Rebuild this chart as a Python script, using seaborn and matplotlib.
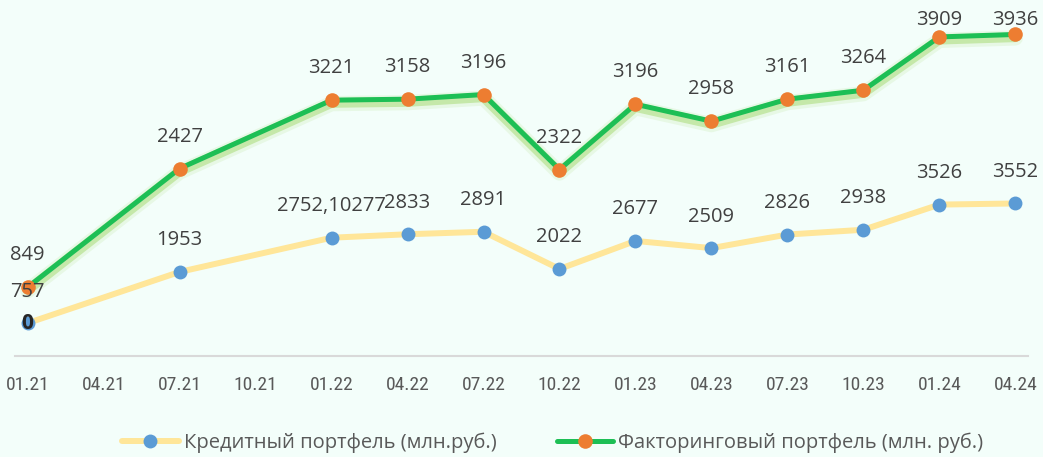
import pandas as pd
import matplotlib
matplotlib.use('Agg')
import matplotlib.pyplot as plt
import matplotlib.patheffects as pe
from matplotlib.lines import Line2D
from matplotlib import font_manager
import seaborn as sns

# даты точек (мм.гг)
dates = ['01.21', '07.21', '01.22', '04.22', '07.22', '10.22',
         '01.23', '04.23', '07.23', '10.23', '01.24', '04.24']
# подписи оси x
tick_labels = ['01.21', '04.21', '07.21', '10.21', '01.22', '04.22', '07.22',
               '10.22', '01.23', '04.23', '07.23', '10.23', '01.24', '04.24']

credit = [757, 1953, 2752.10277, 2833, 2891, 2022, 2677, 2509, 2826, 2938, 3526, 3552]
credit_labels = ['757', '1953', '2752,10277', '2833', '2891', '2022',
                 '2677', '2509', '2826', '2938', '3526', '3552']

# значения по положению точек на графике
factoring = [838, 2294, 3133, 3145, 3202, 2282, 3083, 2875, 3145, 3255, 3909, 3939]
factoring_labels = ['849', '2427', '3221', '3158', '3196', '2322',
                    '3196', '2958', '3161', '3264', '3909', '3936']

name_credit = 'Кредитный портфель (млн.руб.)'
name_factoring = 'Факторинговый портфель (млн. руб.)'


def month_index(s):
    mm, yy = s.split('.')
    return (int(yy) - 21) * 12 + int(mm) - 1


df = pd.DataFrame({'x': [month_index(d) for d in dates],
                   'credit': credit, 'factoring': factoring})

bg = '#F3FEFA'
c_yellow = '#FFE699'
c_blue = '#5B9BD5'
c_green = '#1DBF55'
c_orange = '#ED7D31'
c_text = '#404040'

sns.set_style('white')
plt.rcParams['font.family'] = ['Open Sans', 'DejaVu Sans']

installed = {f.name for f in font_manager.fontManager.ttflist}
tick_font = 'Roboto'
for name in ['Roboto Condensed', 'Liberation Sans Narrow', 'DejaVu Sans Condensed']:
    if name in installed:
        tick_font = name
        break

fig = plt.figure(figsize=(10.43, 4.57), dpi=100, facecolor=bg)
ax = fig.add_axes([15 / 1043, 101.5 / 457, 1013 / 1043, 335.5 / 457])
ax.set_facecolor('none')
ax2 = ax.twinx()
ax2.set_facecolor('none')

sns.lineplot(x='x', y='credit', data=df, ax=ax, color=c_yellow, linewidth=4.3,
             marker='o', markersize=10, markerfacecolor=c_blue,
             markeredgewidth=0, legend=False, zorder=3)

# мягкое свечение под зелёной линией
sns.lineplot(x='x', y='factoring', data=df, ax=ax2, color='#92D050', linewidth=7,
             alpha=0.35, legend=False, zorder=2)
ax2.get_lines()[0].set_path_effects([
    pe.Stroke(linewidth=11, foreground='#92D050', alpha=0.12, offset=(0, -2.5)),
    pe.Stroke(linewidth=7, foreground='#92D050', alpha=0.4, offset=(0, -2))])
sns.lineplot(x='x', y='factoring', data=df, ax=ax2, color=c_green, linewidth=3.6,
             marker='o', markersize=10.5, markerfacecolor=c_orange,
             markeredgewidth=0, legend=False, zorder=3)

ymax1 = 335.5 / 0.0428
ymax2 = 335.5 / 0.0815
ax.set_ylim(0, ymax1)
ax2.set_ylim(0, ymax2)
ax.set_xlim(-0.5, 39.5)

# подписи данных (поверх обеих линий)
off1 = 31.5 / 0.0428
off2 = 32 / 0.0815
for x, v, t in zip(df['x'], credit, credit_labels):
    ax2.text(x, v + off1, t, ha='center', va='center', fontsize=14.5,
             color=c_text, zorder=5, transform=ax.transData)
for x, v, t in zip(df['x'], factoring, factoring_labels):
    ax2.text(x, min(v + off2, ymax2), t, ha='center', va='center',
             fontsize=14.5, color=c_text, zorder=5)
ax2.text(df['x'][0], credit[0], '0', ha='center', va='center', fontsize=15,
         fontweight='bold', color='#262626', zorder=6, transform=ax.transData)

for a in (ax, ax2):
    for s in ('left', 'right', 'top'):
        a.spines[s].set_visible(False)
    a.set_ylabel('')
    a.set_xlabel('')
    a.set_yticks([])
ax2.spines['bottom'].set_visible(False)
ax.spines['bottom'].set_color('#D9D9D9')
ax.spines['bottom'].set_linewidth(1.5)

ax.set_xticks([month_index(t) for t in tick_labels])
ax.set_xticklabels(tick_labels, family=[tick_font, 'DejaVu Sans'],
                   fontsize=12 if tick_font == 'Roboto' else 14, color='#595959')
ax.set_xticks([month_index(t) - 0.5 for t in tick_labels], minor=True)
ax.tick_params(axis='x', which='major', length=0, pad=15)
ax.tick_params(axis='x', which='minor', length=4.5, width=1.2, color='#D9D9D9',
               direction='out')

handles = [Line2D([], [], color=c_yellow, linewidth=4.3, marker='o', markersize=10,
                  markerfacecolor=c_blue, markeredgewidth=0),
           Line2D([], [], color=c_green, linewidth=3.6, marker='o', markersize=10.5,
                  markerfacecolor=c_orange, markeredgewidth=0)]
fig.legend(handles, [name_credit, name_factoring], loc='center', ncol=2,
           bbox_to_anchor=(0.530, 0.032), frameon=False, fontsize=14.5,
           labelcolor='#595959', handlelength=2.8, handletextpad=0.25,
           columnspacing=3.0)

fig.savefig('out.png', dpi=100, facecolor=bg)
